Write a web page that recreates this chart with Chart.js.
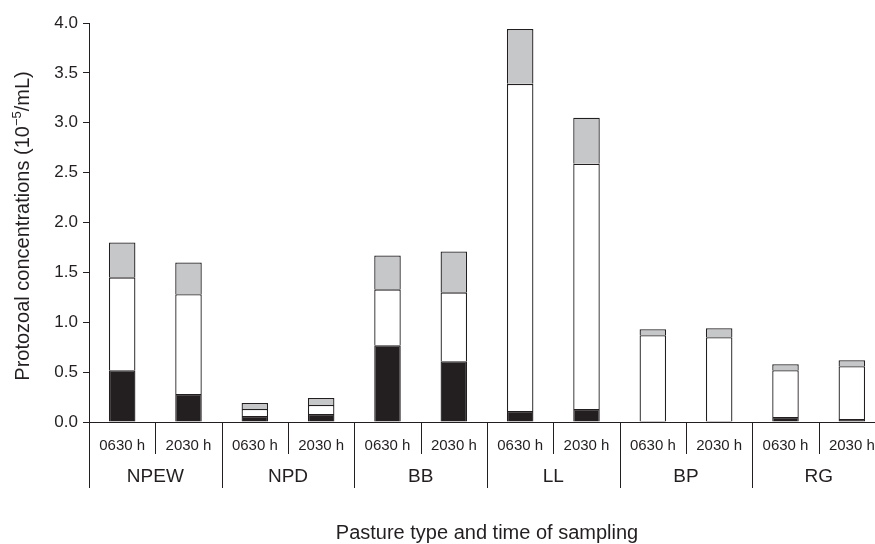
<!DOCTYPE html>
<html>
<head>
<meta charset="utf-8">
<script src="https://cdn.jsdelivr.net/npm/chart.js@4"></script>
<style>
  html, body { margin: 0; padding: 0; background: #fff; overflow: hidden; }
  #grafico { display: block; }
</style>
</head>
<body>
<canvas id="grafico" width="895" height="544"></canvas>
<script>
// pastos y horarios de muestreo
const pasturas = ["NPEW", "NPD", "BB", "LL", "BP", "RG"];
const horarios = ["0630 h", "2030 h"];
const categorias = pasturas.flatMap(p => horarios.map(h => p + " " + h));

// componentes apilados (10^-5/mL)
const serieNegra  = [0.52, 0.28, 0.06, 0.08, 0.77, 0.61, 0.11, 0.13, 0.01, 0.01, 0.05, 0.03];
const serieBlanca = [0.93, 1.00, 0.07, 0.09, 0.56, 0.69, 3.28, 2.46, 0.86, 0.84, 0.47, 0.53];
const serieGris   = [0.35, 0.32, 0.06, 0.07, 0.34, 0.41, 0.55, 0.46, 0.06, 0.09, 0.06, 0.06];

const ticksY = [0, 0.5, 1.0, 1.5, 2.0, 2.5, 3.0, 3.5, 4.0];

const tinta = "#231f20";
const fuente = "'Liberation Sans', Arial, sans-serif";

const etiquetas = {
  id: "etiquetas",
  afterDraw(chart) {
    const ctx = chart.ctx;
    const x = chart.scales.x;
    const area = chart.chartArea;
    const ancho = (x.getPixelForValue(1) - x.getPixelForValue(0));
    ctx.save();
    ctx.strokeStyle = tinta;
    ctx.lineWidth = 1;
    // lineas divisorias bajo el eje
    for (let k = 0; k <= categorias.length; k++) {
      const px = Math.round(x.getPixelForValue(k) - ancho / 2) + 0.5;
      const largo = k % 2 === 0 ? 66 : 32;
      ctx.beginPath();
      ctx.moveTo(px, area.bottom);
      ctx.lineTo(px, area.bottom + largo);
      ctx.stroke();
    }
    ctx.fillStyle = tinta;
    ctx.textAlign = "center";
    ctx.textBaseline = "middle";
    ctx.font = "15px " + fuente;
    categorias.forEach((c, i) => {
      ctx.fillText(horarios[i % 2], x.getPixelForValue(i), area.bottom + 24);
    });
    ctx.font = "19px " + fuente;
    pasturas.forEach((p, i) => {
      const px = (x.getPixelForValue(i * 2) + x.getPixelForValue(i * 2 + 1)) / 2;
      ctx.fillText(p, px, area.bottom + 55);
    });
    // titulo eje x
    ctx.font = "20px " + fuente;
    ctx.fillText("Pasture type and time of sampling", (area.left + area.right) / 2, 533);
    // titulo eje y con superindice
    ctx.translate(23, 226);
    ctx.rotate(-Math.PI / 2);
    const t1 = "Protozoal concentrations (10", sup = "\u22125", t2 = "/mL)";
    ctx.font = "20px " + fuente;
    const w1 = ctx.measureText(t1).width, w3 = ctx.measureText(t2).width;
    ctx.font = "13px " + fuente;
    const w2 = ctx.measureText(sup).width;
    let cx = -(w1 + w2 + w3) / 2;
    ctx.textAlign = "left";
    ctx.font = "20px " + fuente;
    ctx.fillText(t1, cx, 0);
    ctx.font = "13px " + fuente;
    ctx.fillText(sup, cx + w1, -6);
    ctx.font = "20px " + fuente;
    ctx.fillText(t2, cx + w1 + w2, 0);
    ctx.restore();
  }
};

const comun = { borderColor: tinta, borderWidth: 1.3, barPercentage: 0.4, categoryPercentage: 1.0 };

new Chart(document.getElementById("grafico"), {
  type: "bar",
  data: {
    labels: categorias,
    datasets: [
      { label: "negro", data: serieNegra,  backgroundColor: tinta, ...comun },
      { label: "blanco", data: serieBlanca, backgroundColor: "#ffffff", ...comun },
      { label: "gris", data: serieGris,   backgroundColor: "#c6c7c9", ...comun }
    ]
  },
  options: {
    responsive: false,
    animation: false,
    layout: { padding: { top: 23, right: 10, left: 0, bottom: 0 } },
    plugins: { legend: { display: false }, tooltip: { enabled: false } },
    scales: {
      x: {
        stacked: true,
        grid: { display: false },
        ticks: { display: false },
        border: { display: true, color: tinta, width: 1 },
        afterFit: s => { s.height = 122; }
      },
      y: {
        stacked: true,
        min: 0, max: 4,
        afterBuildTicks: s => { s.ticks = ticksY.map(v => ({ value: v })); },
        ticks: { color: tinta, padding: 5, font: { family: fuente, size: 17 }, callback: v => v.toFixed(1) },
        grid: { drawOnChartArea: false, tickLength: 6, color: tinta },
        border: { display: true, color: tinta, width: 1 },
        afterFit: s => { s.width = 89; }
      }
    }
  },
  plugins: [etiquetas]
});
</script>
</body>
</html>
